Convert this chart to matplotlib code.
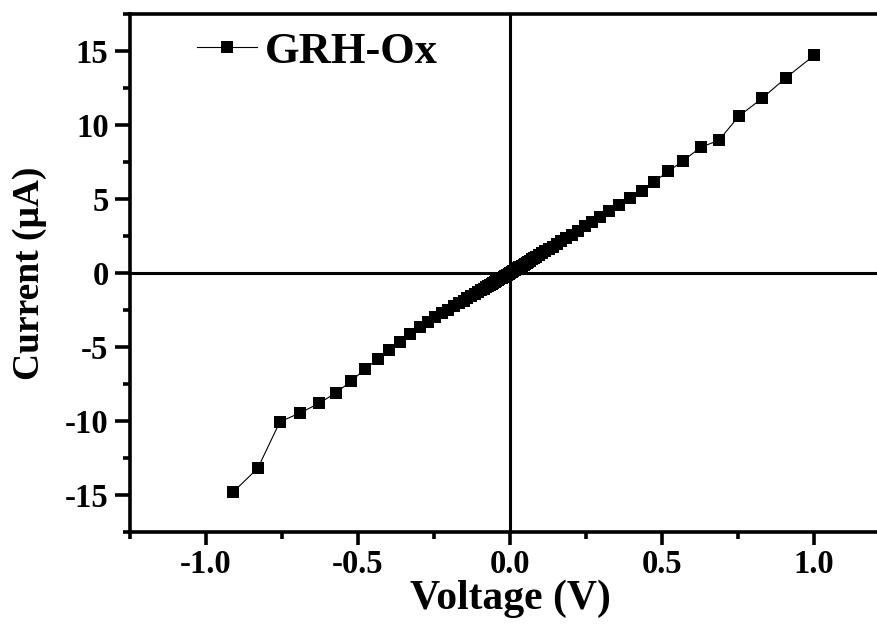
import matplotlib
matplotlib.use("Agg")
import matplotlib.pyplot as plt
from matplotlib.ticker import MultipleLocator, FormatStrFormatter

# Data: voltage in V, current in uA
voltage_neg = [-0.911, -0.830, -0.757, -0.690, -0.628, -0.573, -0.522, -0.476,
               -0.435, -0.397, -0.362, -0.329, -0.296, -0.270, -0.246, -0.224,
               -0.204, -0.185, -0.169, -0.153, -0.140, -0.127, -0.116, -0.105,
               -0.096, -0.087, -0.079, -0.072, -0.066, -0.060, -0.055, -0.050,
               -0.045, -0.040, -0.035, -0.030, -0.025, -0.020, -0.015, -0.010,
               -0.005]
current_neg = [-14.8, -13.2, -10.05, -9.45, -8.8, -8.1, -7.3, -6.47,
               -5.8, -5.21, -4.64, -4.15, -3.65, -3.3, -3.0, -2.72,
               -2.48, -2.25, -2.05, -1.86, -1.7, -1.55, -1.41, -1.28,
               -1.17, -1.06, -0.96, -0.88, -0.8, -0.73, -0.67, -0.61,
               -0.55, -0.49, -0.43, -0.37, -0.31, -0.25, -0.18, -0.12,
               -0.06]
voltage_pos = [0.0, 0.005, 0.010, 0.015, 0.020, 0.025, 0.030, 0.035, 0.040,
               0.045, 0.050, 0.055, 0.060, 0.066, 0.072, 0.079, 0.087, 0.096,
               0.105, 0.116, 0.127, 0.140, 0.153, 0.169, 0.185, 0.204, 0.224,
               0.246, 0.270, 0.297, 0.327, 0.359, 0.395, 0.434, 0.474, 0.521,
               0.570, 0.628, 0.687, 0.753, 0.829, 0.908, 1.0]
current_pos = [0.0, 0.06, 0.13, 0.19, 0.25, 0.32, 0.38, 0.44, 0.5,
               0.57, 0.63, 0.70, 0.76, 0.84, 0.92, 1.0, 1.11, 1.22,
               1.34, 1.48, 1.62, 1.78, 1.95, 2.15, 2.35, 2.6, 2.85,
               3.15, 3.45, 3.8, 4.2, 4.6, 5.08, 5.57, 6.18, 6.86,
               7.6, 8.5, 8.97, 10.6, 11.8, 13.2, 14.7]
series_label = "GRH-Ox"
x_label = "Voltage (V)"
y_label = "Current (\u03bcA)"

voltage = voltage_neg + voltage_pos
current = current_neg + current_pos

plt.rcParams['font.family'] = ['Liberation Serif', 'DejaVu Serif']
plt.rcParams['font.weight'] = 'bold'

fig = plt.figure(figsize=(8.78, 6.37), dpi=100)
ax = fig.add_axes([0.1481, 0.1648, 0.8656, 0.8132])

ax.plot(voltage, current, color='black', lw=0.8, marker='s', ms=8.5,
        markeredgewidth=0, label=series_label, zorder=3)

ax.axhline(0, color='black', lw=2.2, zorder=2)
ax.axvline(0, color='black', lw=2.2, zorder=2)

ax.set_xlim(-1.25, 1.25)
ax.set_ylim(-17.5, 17.5)
ax.xaxis.set_major_locator(MultipleLocator(0.5))
ax.xaxis.set_minor_locator(MultipleLocator(0.25))
ax.yaxis.set_major_locator(MultipleLocator(5))
ax.yaxis.set_minor_locator(MultipleLocator(2.5))
ax.xaxis.set_major_formatter(FormatStrFormatter('%.1f'))
ax.yaxis.set_major_formatter(FormatStrFormatter('%d'))

for s in ax.spines.values():
    s.set_linewidth(2.6)

ax.tick_params(which='major', direction='out', width=2.6, labelsize=23.5)
ax.tick_params(axis='x', which='major', length=9.5, pad=2.5)
ax.tick_params(axis='y', which='major', length=11, pad=4.5)
ax.tick_params(which='minor', direction='out', length=5, width=2.6)
ax.tick_params(top=False, right=False, which='both')

for lab in ax.get_xticklabels() + ax.get_yticklabels():
    lab.set_fontweight('bold')

ax.set_xlabel(x_label, fontsize=30, fontweight='bold', labelpad=0)
ax.set_ylabel(y_label, fontsize=27, fontweight='bold', labelpad=13)

leg = ax.legend(loc='upper left', frameon=False,
                prop={'weight': 'bold', 'size': 32}, handlelength=1.35,
                handletextpad=0.18, borderaxespad=0.2,
                bbox_to_anchor=(0.053, 1.017))

fig.savefig('out.png', dpi=100)
